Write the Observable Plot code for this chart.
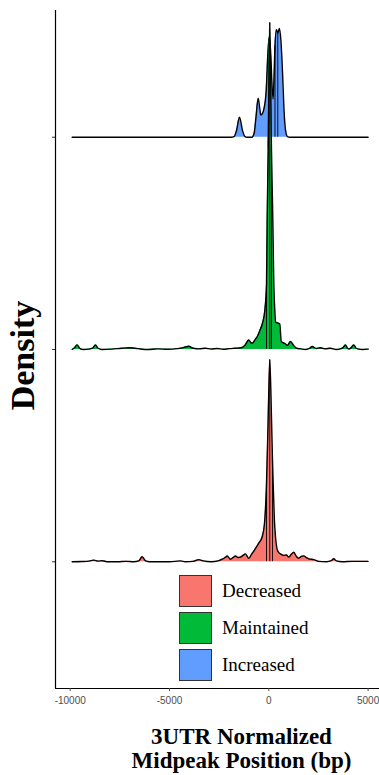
<!DOCTYPE html>
<html>
<head>
<meta charset="utf-8">
<script src="https://cdn.jsdelivr.net/npm/d3@7"></script>
<script src="https://cdn.jsdelivr.net/npm/@observablehq/plot@0.6"></script>
<style>
  body { margin: 0; background: #fff; }
  #chart { position: relative; width: 379px; height: 775px; }
  .legend { position: absolute; left: 179px; top: 575px; font-family: "Liberation Serif", "Times New Roman", serif; font-size: 19px; color: #000; }
  .legend .item { display: flex; align-items: center; height: 37px; }
  .legend .item .sw { width: 31px; height: 30px; border: 1.3px solid #333; box-sizing: content-box; margin-top: -6px; }
  .legend .item span { margin-left: 10px; margin-top: -6px; }
</style>
</head>
<body>
<div id="chart"></div>
<script>
// Groups (bottom ridge first) and their fill colours
const groups = ["Decreased", "Maintained", "Increased"];
const groupColors = ["#F8766D", "#00BA38", "#619CFF"];

// Axis ticks
const xTicks = [-10000, -5000, 0, 5000];
const xDomain = [-10740, 5574];
const yDomain = [-0.597, 2.597];

// Smoothed density of each group: position (bp) and scaled density
const decreasedPos = [-9900, -9400, -9050, -8810, -8600, -8390, -8100, -7600, -7200, -6800, -6550, -6375, -6200, -6000, -5000, -4445, -4200, -3800, -3525, -3300, -2900, -2550, -2345, -2200, -2095, -1930, -1800, -1677, -1550, -1425, -1300, -1173, -1007, -870, -755, -620, -503, -332, -217, -115, -30, 50, 135, 186, 220, 280, 337, 453, 590, 750, 890, 1007, 1130, 1260, 1390, 1510, 1640, 1762, 1890, 2014, 2265, 2500, 2900, 3150, 3273, 3400, 3700, 4200, 4700, 5000];
const decreasedDensity = [0, 0.001, 0.003, 0.008, 0.003, 0.005, 0, 0, 0.002, 0, 0.004, 0.024, 0.004, 0, 0, 0.004, 0, 0.002, 0.01, 0.004, 0, 0.004, 0.012, 0.02, 0.027, 0.012, 0.02, 0.027, 0.02, 0.022, 0.03, 0.037, 0.016, 0.035, 0.05, 0.07, 0.088, 0.118, 0.18, 0.37, 0.68, 0.952, 0.68, 0.48, 0.37, 0.2, 0.118, 0.05, 0.037, 0.03, 0.032, 0.022, 0.035, 0.045, 0.025, 0.017, 0.025, 0.028, 0.02, 0.014, 0.01, 0.002, 0, 0.005, 0.014, 0.004, 0, 0.002, 0.002, 0.002];

const maintainedPos = [-9900, -9780, -9650, -9520, -9350, -9050, -8850, -8725, -8600, -8400, -7900, -7400, -7000, -6600, -6100, -5600, -5100, -4600, -4300, -4030, -3800, -3500, -3200, -2900, -2600, -2300, -2000, -1700, -1400, -1200, -1010, -900, -830, -680, -584, -450, -330, -200, -115, -80, -30, 50, 135, 200, 252, 302, 337, 450, 554, 624, 700, 790, 940, 1093, 1245, 1395, 1600, 1850, 2050, 2185, 2400, 2600, 2855, 3100, 3400, 3610, 3750, 3862, 3960, 4040, 4160, 4280, 4400, 4520, 4720, 5000];
const maintainedDensity = [0, 0.008, 0.022, 0.005, 0, 0.002, 0.008, 0.022, 0.006, 0, 0.002, 0.006, 0.008, 0.004, 0, 0.003, 0.001, 0.004, 0.009, 0.015, 0.006, 0.003, 0.006, 0.002, 0.005, 0.001, 0.004, 0.006, 0.008, 0.02, 0.045, 0.032, 0.03, 0.048, 0.06, 0.09, 0.12, 0.185, 0.31, 0.625, 0.94, 1.54, 0.94, 0.625, 0.31, 0.185, 0.13, 0.125, 0.12, 0.04, 0.032, 0.03, 0.02, 0.038, 0.02, 0.006, 0.003, 0, 0.005, 0.014, 0.005, 0.008, 0.003, 0.006, 0, 0.003, 0.01, 0.022, 0.006, 0.002, 0.01, 0.022, 0.006, 0.002, 0, 0.002];

const increasedPos = [-9900, -1900, -1750, -1625, -1475, -1325, -1200, -1100, -850, -735, -650, -534, -460, -403, -330, -252, -131, -50, 20, 100, 160, 215, 260, 312, 388, 453, 539, 614, 690, 765, 840, 940, 1050, 5000];
const increasedDensity = [0, 0, 0.003, 0.032, 0.094, 0.032, 0.003, 0, 0, 0.02, 0.09, 0.184, 0.14, 0.105, 0.11, 0.13, 0.22, 0.39, 0.47, 0.39, 0.25, 0.18, 0.27, 0.43, 0.507, 0.49, 0.513, 0.45, 0.31, 0.13, 0.035, 0.003, 0, 0];

// Quartile positions drawn as lines inside each ridge
const decreasedQuartiles = [-115, 50, 186];
const maintainedQuartiles = [-115, 50, 135];
const increasedQuartiles = [20, 312, 453];

const series = [
  {name: "Increased", base: 2, pos: increasedPos, dens: increasedDensity, q: increasedQuartiles},
  {name: "Maintained", base: 1, pos: maintainedPos, dens: maintainedDensity, q: maintainedQuartiles},
  {name: "Decreased", base: 0, pos: decreasedPos, dens: decreasedDensity, q: decreasedQuartiles}
];

const serif = '"Liberation Serif", "Times New Roman", serif';
const marks = [];

// Ridges are drawn top to bottom so that lower ridges overlap upper ones
for (const s of series) {
  const rows = s.pos.map((x, i) => ({group: s.name, x, base: s.base, top: s.base + s.dens[i]}));
  const qRows = s.q.map(v => ({x: v, base: s.base, top: s.base + s.dens[s.pos.indexOf(v)]}));
  marks.push(
    Plot.areaY(rows, {x: "x", y1: "base", y2: "top", fill: "group", curve: "monotone-x"}),
    Plot.ruleX(qRows, {x: "x", y1: "base", y2: "top", stroke: "#000", strokeWidth: 0.9}),
    Plot.lineY(rows, {x: "x", y: "top", stroke: "#000", strokeWidth: 1.4, curve: "monotone-x"})
  );
}

const plot = Plot.plot({
  width: 379,
  height: 775,
  marginLeft: 55,
  marginRight: 0,
  marginTop: 10,
  marginBottom: 87,
  style: {fontFamily: '"Liberation Sans", Arial, sans-serif', background: "#fff"},
  x: {domain: xDomain},
  y: {domain: yDomain},
  color: {domain: groups, range: groupColors},
  marks: [
    ...marks,
    Plot.ruleX([xDomain[0]], {stroke: "#000", strokeWidth: 1.2}),
    Plot.ruleY([yDomain[0]], {stroke: "#000", strokeWidth: 1.2}),
    Plot.axisX({ticks: xTicks, tickSize: 3, tickPadding: 5, tickFormat: d => String(d), label: null,
      color: "#4d4d4d", fontSize: 10, fontFamily: '"Liberation Sans", Arial, sans-serif'}),
    Plot.axisY({ticks: [0, 1, 2], tickSize: 3, tickFormat: () => "", label: null, color: "#333"}),
    Plot.text(["Density"], {frameAnchor: "left", textAnchor: "middle", lineAnchor: "middle", rotate: -90,
      dx: -32, dy: 6, fontSize: 34, fontWeight: "bold", fontFamily: serif, fill: "#000"}),
    Plot.text(["3UTR Normalized\nMidpeak Position (bp)"], {frameAnchor: "bottom", lineAnchor: "top",
      dx: 24, dy: 39, lineHeight: 1.04, fontSize: 23, fontWeight: "bold", fontFamily: serif, fill: "#000"})
  ]
});

const chart = document.getElementById("chart");
chart.appendChild(plot);

// Legend inside the panel, swatch colours taken from the colour scale
const colorScale = plot.scale("color");
const legend = document.createElement("div");
legend.className = "legend";
for (const g of groups) {
  const item = document.createElement("div");
  item.className = "item";
  const sw = document.createElement("div");
  sw.className = "sw";
  sw.style.background = colorScale.range[colorScale.domain.indexOf(g)];
  const label = document.createElement("span");
  label.textContent = g;
  item.append(sw, label);
  legend.appendChild(item);
}
chart.appendChild(legend);
</script>
</body>
</html>
